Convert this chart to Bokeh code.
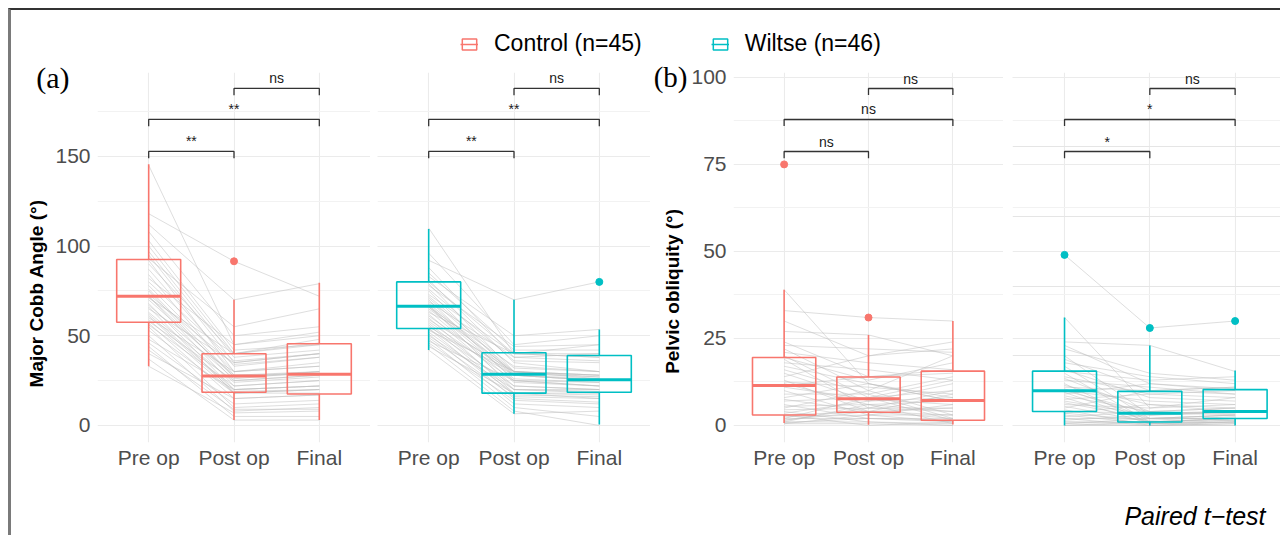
import numpy as np
from bokeh.plotting import figure
from bokeh.layouts import row, column
from bokeh.models import Range1d, FixedTicker, Legend, LegendItem, Label, Grid, LinearAxis
from bokeh.embed import file_html
from bokeh.resources import INLINE
from bokeh.core.properties import value

nan = float("nan")

timepoints = ["Pre op", "Post op", "Final"]
group_labels = ["Control (n=45)", "Wiltse (n=46)"]
group_colors = ["#F8766D", "#00BFC4"]

# ---------------- (a) Major Cobb angle: paired patient values ----------------
cobb_control_pre = [145, 118, 112, 108, 103, 100, 97, 95, 93, 92, 90, 87, 84, 82, 80,
                    78, 76, 75, 73, 72, 72, 71, 70, 68, 67, 66, 65, 63, 62, 61,
                    60, 59, 58, 57, 56, 55, 53, 50, 48, 46, 44, 42, 40, 37, 33]
cobb_control_post = [45, 91.5, 70, 50, 42, 40, 38, 35, 55, 30, 40, 33, 28, 45, 36,
                     30, 27, 25, 34, 27, 22, 40, 28, 20, 26, 18, 35, 24, 20, 19,
                     30, 18, 25, 15, 22, 10, 18, 8, 20, 12, 5, 9, 15, 3, 7]
cobb_control_final = [50, 72, 79, 55, 45, 48, 42, 40, 65, 35, 46, 38, 30, 52, 40,
                      33, 29, 28, 38, 30, 25, 45, 29, 22, 30, 20, 40, 27, 22, 20,
                      33, 18, 28, 17, 25, 12, 20, 10, 22, 14, 5, 9, 17, 3, 8]

cobb_wiltse_pre = [110, 96, 92, 88, 85, 83, 81, 80, 79, 78, 76, 75, 73, 72, 71,
                   70, 69, 68, 67, 67, 66, 66, 65, 64, 63, 62, 61, 60, 59, 58,
                   57, 56, 55, 54, 54, 53, 52, 51, 50, 49, 48, 47, 46, 45, 44, 42]
cobb_wiltse_post = [40, 45, 70, 38, 42, 50, 35, 40, 30, 44, 36, 28, 40, 32, 30,
                    25, 38, 29, 28, 20, 33, 26, 30, 24, 40, 22, 28, 18, 30, 25,
                    20, 17, 28, 22, 15, 30, 18, 12, 20, 16, 10, 25, 14, 8, 18, 6.5]
cobb_wiltse_final = [45, 50, 80, 40, 42, 53.5, 30, 38, 28, 45, 35, 25, 40, 30, 26,
                     22, 36, 27, 25, 20, 30, 24, 28, 22, 38, 20, 26, 18, 27, 24,
                     19, 16, 25, 20, 13, 28, 17, 10, 18, 15, 5, 22, 12, 0, 15, 8]

# ---------------- (b) Pelvic obliquity: paired patient values ----------------
po_control_pre = [75, 39, 33, 30, 27, 24, 23, 22, 21, 20, 19.5, 19, 18, 17, 16,
                  15, 14, 13, 12.5, 12, 11.5, 11, 10, 9, 8, 7.5, 7, 6, 5.5, 5,
                  4.5, 4, 3.5, 3, 3, 2.5, 2, 2, 1.5, 1.5, 1, 1, 0.8, 0.5, 0.5]
po_control_post = [nan, 12, 31, 20, 26, 14, 22, 10, 18, 8, 13, 5, 16, 12, 9,
                   7, 20, 4, 11, 6, 14, 7.5, 3, 9, 12, 4, 8, 2, 6, 10,
                   5, 1, 7, 4, 0, 3, 8, 2, 5, 4, 1, 6, 2, 3, 0.5]
po_control_final = [nan, 8, 30, 24, 20, 15, 21, 3, 16, 1.5, 18, 10, 13, 7, 2,
                    12, 22, 5, 9, 0.5, 16, 6, 1, 14, 7, 3, 10, 1.5, 4, 20,
                    5, 0, 8, 2, 1, 6, 13, 2, 4, 9, 0.5, 7, 1, 3, 0]

po_wiltse_pre = [49, 31, 24, 23, 22, 20, 19, 18, 17, 16, 15.5, 15, 14, 13.5, 13,
                 12, 11.5, 11, 10.5, 10, 10, 9.5, 9, 8.5, 8, 7.5, 7, 6.5, 6, 5.5,
                 5, 4.5, 4, 3.5, 3.5, 3, 2.5, 2, 2, 1.5, 1, 1, 0.5, 0.5, 0, 0]
po_wiltse_post = [28, 5, 23, 12, 15, 3, 10, 14, 2, 8, 13, 1, 9, 4, 11,
                  0.5, 6, 10, 2, 3.5, 7, 1, 12, 4, 0.5, 9, 3, 2, 5, 1,
                  10, 0, 3.5, 6, 1.5, 0.5, 4, 2, 0, 3, 1, 0.5, 2, 0, 1, 0]
po_wiltse_final = [30, 8, 15.5, 10, 13, 4, 11, 12, 3, 7, 14, 2, 10, 5, 9,
                   1, 4, 11, 3, 4, 6, 2, 10.5, 5, 1.5, 8, 3.5, 2, 6, 2,
                   9, 1, 4, 5, 2.5, 1, 3, 2, 0.5, 4, 1.5, 1, 3, 0, 2, 0.5]

# ---------------- box summaries (Pre op, Post op, Final) ----------------
cobb_control_low = [33, 3, 3]
cobb_control_q1 = [57.5, 18.5, 17.5]
cobb_control_med = [72, 27.5, 28.5]
cobb_control_q3 = [92.5, 40, 45.5]
cobb_control_high = [145.5, 70, 79.5]
cobb_control_out_t = ["Post op"]
cobb_control_out_v = [91.5]

cobb_wiltse_low = [42, 6.5, 0.5]
cobb_wiltse_q1 = [54, 18, 18.5]
cobb_wiltse_med = [66.5, 28.5, 25.5]
cobb_wiltse_q3 = [80, 40.5, 39]
cobb_wiltse_high = [109.5, 70, 53.5]
cobb_wiltse_out_t = ["Final"]
cobb_wiltse_out_v = [80]

po_control_low = [0.7, 0.2, 0.3]
po_control_q1 = [3, 3.8, 1.5]
po_control_med = [11.5, 7.7, 7.2]
po_control_q3 = [19.5, 13.9, 15.6]
po_control_high = [39, 26, 30]
po_control_out_t = ["Pre op", "Post op"]
po_control_out_v = [75, 31]

po_wiltse_low = [0, 0, 0]
po_wiltse_q1 = [4, 1, 2]
po_wiltse_med = [10, 3.5, 4]
po_wiltse_q3 = [15.6, 9.8, 10.3]
po_wiltse_high = [31, 23, 15.8]
po_wiltse_out_t = ["Pre op", "Post op", "Final"]
po_wiltse_out_v = [49, 28, 30]

# ---------------- paired t-test significance ----------------
bracket_pairs = [("Pre op", "Post op"), ("Pre op", "Final"), ("Post op", "Final")]
cobb_control_sig = ["**", "**", "ns"]
cobb_wiltse_sig = ["**", "**", "ns"]
po_control_sig = ["ns", "ns", "ns"]
po_wiltse_sig = ["*", "*", "ns"]

FONT = "Liberation Sans"
BOX_W = 0.75
GRID_MAJOR = "#ebebeb"
GRID_MINOR = "#f2f2f2"
PANEL_H = 424


def bare_axis(ax):
    ax.axis_line_color = None
    ax.major_tick_line_color = None
    ax.minor_tick_line_color = None
    ax.major_tick_out = 0
    ax.major_tick_in = 0
    ax.minor_tick_out = 0
    ax.minor_tick_in = 0


def panel(width, border_left, xr, yr, yticks, yminor, color,
          pre, post, final, low, q1, med, q3, high, out_t, out_v,
          sig, levels, tick_len, show_y):
    kw = dict(width=width, height=PANEL_H, x_range=Range1d(*xr), y_range=Range1d(*yr),
              output_backend="svg", toolbar_location=None,
              min_border_left=border_left, min_border_right=0,
              min_border_top=14, min_border_bottom=40,
              outline_line_color=None, background_fill_color="white",
              border_fill_color="white")
    if not show_y:
        kw["y_axis_location"] = None
    p = figure(**kw)

    xpos = {t: i + 1 for i, t in enumerate(timepoints)}
    xs = [xpos[t] for t in timepoints]

    ax = p.xaxis[0]
    ax.ticker = FixedTicker(ticks=xs)
    ax.major_label_overrides = {xpos[t]: t for t in timepoints}
    bare_axis(ax)
    ax.major_label_text_font = FONT
    ax.major_label_text_font_size = "21px"
    ax.major_label_text_color = "#4d4d4d"
    ax.major_label_standoff = 3
    p.xgrid.grid_line_color = GRID_MAJOR
    p.xgrid.grid_line_width = 1.1

    yt = FixedTicker(ticks=yticks, minor_ticks=yminor)
    if show_y:
        ay = p.yaxis[0]
        ay.ticker = yt
        bare_axis(ay)
        ay.major_label_text_font = FONT
        ay.major_label_text_font_size = "21px"
        ay.major_label_text_color = "#4d4d4d"
        ay.major_label_standoff = 7
        g = p.ygrid[0]
    else:
        g = Grid(dimension=1, ticker=yt)
        p.add_layout(g, "center")
    g.grid_line_color = GRID_MAJOR
    g.grid_line_width = 1.1
    g.minor_grid_line_color = GRID_MINOR
    g.minor_grid_line_width = 1

    # paired patient lines
    lys = [np.array([a, b, c], dtype=float) for a, b, c in zip(pre, post, final)]
    lxs = [np.array(xs, dtype=float) for _ in lys]
    p.multi_line(lxs, lys, line_color="#bdbdbd", line_alpha=0.5, line_width=1)

    # boxplots
    p.vbar(x=xs, width=BOX_W, bottom=q1, top=q3, fill_color=None,
           line_color=color, line_width=1.6)
    p.segment(x0=[x - BOX_W / 2 for x in xs], y0=med, x1=[x + BOX_W / 2 for x in xs], y1=med,
              line_color=color, line_width=3)
    p.segment(x0=xs, y0=q3, x1=xs, y1=high, line_color=color, line_width=1.6)
    p.segment(x0=xs, y0=q1, x1=xs, y1=low, line_color=color, line_width=1.6)
    p.scatter(x=[xpos[t] for t in out_t], y=out_v, size=7, color=color)

    # significance brackets
    bxs, bys, mids = [], [], []
    for (a, b), lev in zip(bracket_pairs, levels):
        x1, x2 = xpos[a], xpos[b]
        bxs.append([x1, x1, x2, x2])
        bys.append([lev - tick_len, lev, lev, lev - tick_len])
        mids.append((x1 + x2) / 2)
    p.multi_line(bxs, bys, line_color="#333333", line_width=1.3)
    p.text(x=mids, y=levels, text=sig, text_align="center", text_baseline="bottom",
           y_offset=-2, text_font=value(FONT), text_font_size=value("14px"),
           text_color="#1a1a1a")
    return p


def tag_axis(tick_value, tag, standoff, font_size):
    a = LinearAxis(ticker=FixedTicker(ticks=[tick_value]),
                   major_label_overrides={tick_value: tag})
    bare_axis(a)
    a.major_label_text_font = "Liberation Serif"
    a.major_label_text_font_size = font_size
    a.major_label_text_color = "black"
    a.major_label_text_line_height = 1.0
    a.major_label_standoff = standoff
    return a


def title_axis(label, at, standoff):
    a = LinearAxis(ticker=FixedTicker(ticks=[at]), major_label_overrides={at: label})
    bare_axis(a)
    a.major_label_orientation = "vertical"
    a.major_label_text_font = FONT
    a.major_label_text_font_size = "19px"
    a.major_label_text_font_style = "bold"
    a.major_label_text_color = "black"
    a.major_label_standoff = standoff
    return a


cobb_levels = [152.7, 170.6, 187.8]
po_levels = [78.7, 87.9, 96.8]

p1 = panel(359, 86, (0.4, 3.6), (-9.5, 196.7), [0, 50, 100, 150], [25, 75, 125, 175],
           group_colors[0],
           cobb_control_pre, cobb_control_post, cobb_control_final,
           cobb_control_low, cobb_control_q1, cobb_control_med, cobb_control_q3,
           cobb_control_high, cobb_control_out_t, cobb_control_out_v,
           cobb_control_sig, cobb_levels, 3.8, True)
p2 = panel(280, 7, (0.4, 3.6), (-9.5, 196.7), [0, 50, 100, 150], [25, 75, 125, 175],
           group_colors[1],
           cobb_wiltse_pre, cobb_wiltse_post, cobb_wiltse_final,
           cobb_wiltse_low, cobb_wiltse_q1, cobb_wiltse_med, cobb_wiltse_q3,
           cobb_wiltse_high, cobb_wiltse_out_t, cobb_wiltse_out_v,
           cobb_wiltse_sig, cobb_levels, 3.8, False)
p3 = panel(353, 81, (0.4, 3.6), (-4.9, 101.4), [0, 25, 50, 75, 100], [12.5, 37.5, 62.5, 87.5],
           group_colors[0],
           po_control_pre, po_control_post, po_control_final,
           po_control_low, po_control_q1, po_control_med, po_control_q3,
           po_control_high, po_control_out_t, po_control_out_v,
           po_control_sig, po_levels, 1.9, True)
p4 = panel(277, 9, (0.39, 3.532), (-4.9, 101.4), [0, 25, 50, 75, 100], [12.5, 37.5, 62.5, 87.5],
           group_colors[1],
           po_wiltse_pre, po_wiltse_post, po_wiltse_final,
           po_wiltse_low, po_wiltse_q1, po_wiltse_med, po_wiltse_q3,
           po_wiltse_high, po_wiltse_out_t, po_wiltse_out_v,
           po_wiltse_sig, po_levels, 1.9, False)

# panel tags and y-axis titles (extra left axes stacked outward from the frame)
p1.add_layout(tag_axis(194, "(a)", -17, "30px"), "left")
p1.add_layout(title_axis("Major Cobb Angle (°)", 73.6, -14), "left")
p3.add_layout(title_axis("Pelvic obliquity (°)", 38.5, 5), "left")
p3.add_layout(tag_axis(100, "(b)", -28, "29px"), "left")

# ---------------- header with legend ----------------
header = figure(width=1269, height=48, x_range=Range1d(0, 1), y_range=Range1d(0, 1),
                x_axis_location=None, y_axis_location=None, min_border=0,
                outline_line_color=None, toolbar_location=None, output_backend="svg")
header.xgrid.visible = False
header.ygrid.visible = False
items = []
for lab, col in zip(group_labels, group_colors):
    rb = header.rect(x=[-5], y=[-5], width=0.1, height=0.1, fill_color="white",
                     line_color=col, line_width=1.5)
    rm = header.line(x=[-5, -4], y=[-5, -5], line_color=col, line_width=1.5)
    items.append(LegendItem(label=lab, renderers=[rb, rm]))
legend = Legend(items=items, location=(449, 1), orientation="horizontal",
                glyph_width=18, glyph_height=14, label_standoff=16, spacing=69,
                padding=0, margin=0, border_line_color=None, background_fill_alpha=0,
                label_text_font=FONT, label_text_font_size="23px", label_text_color="black")
header.add_layout(legend, "center")

# ---------------- footer with test note ----------------
footer = figure(width=1269, height=53, x_range=Range1d(0, 1), y_range=Range1d(0, 1),
                x_axis_location=None, y_axis_location=None, min_border=0,
                outline_line_color=None, toolbar_location=None, output_backend="svg")
footer.xgrid.visible = False
footer.ygrid.visible = False
footer.add_layout(Label(x=1254, y=20, x_units="screen", y_units="screen", text="Paired t−test",
                        text_font=FONT, text_font_size="25px", text_font_style="italic",
                        text_align="right", text_baseline="middle", text_color="black"))

layout = column(header, row(p1, p2, p3, p4), footer,
                styles={"margin-left": "8px", "margin-top": "8px",
                        "border-left": "3px solid #7a7a7a", "border-top": "2px solid #333333"})

open("out.html", "w").write(file_html(layout, INLINE))
